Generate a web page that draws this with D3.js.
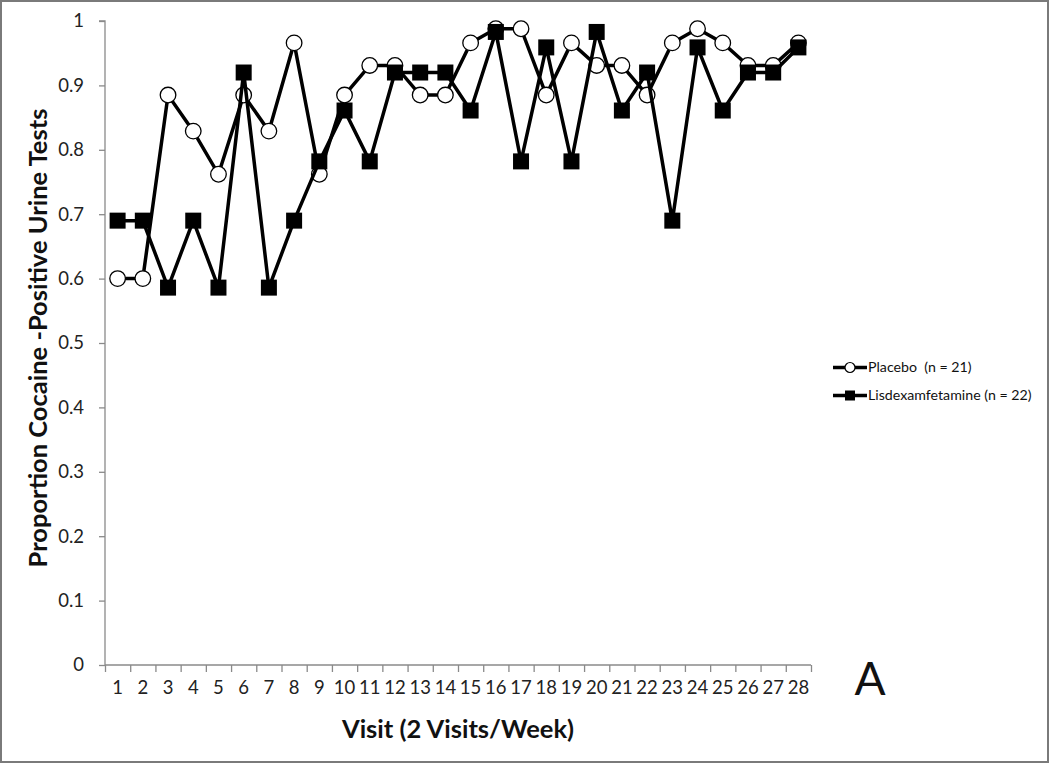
<!DOCTYPE html>
<html>
<head>
<meta charset="utf-8">
<script src="https://cdn.jsdelivr.net/npm/d3@7"></script>
<style>
  html, body { margin: 0; padding: 0; background: #fff; }
  svg { display: block; }
  text { font-family: Lato, "Open Sans", sans-serif; white-space: pre; }
</style>
</head>
<body>
<svg id="chart" width="1050" height="764"></svg>
<script>
const visits = d3.range(1, 29);
const placebo = [0.600, 0.600, 0.885, 0.829, 0.762, 0.885, 0.829, 0.966, 0.762, 0.885,
                 0.931, 0.931, 0.885, 0.885, 0.966, 0.988, 0.988, 0.885, 0.966, 0.931,
                 0.931, 0.885, 0.966, 0.988, 0.966, 0.931, 0.931, 0.966];
const lisdex = [0.690, 0.690, 0.586, 0.690, 0.586, 0.920, 0.586, 0.690, 0.782, 0.861,
                0.782, 0.920, 0.920, 0.920, 0.861, 0.983, 0.782, 0.959, 0.782, 0.983,
                0.861, 0.920, 0.690, 0.959, 0.861, 0.920, 0.920, 0.959];
const yTicks = [0, 0.1, 0.2, 0.3, 0.4, 0.5, 0.6, 0.7, 0.8, 0.9, 1];
const seriesNames = ["Placebo  (n = 21)", "Lisdexamfetamine (n = 22)"];
const xTitle = "Visit (2 Visits/Week)";
const yTitle = "Proportion Cocaine -Positive Urine Tests";
const panelLabel = "A";

const svg = d3.select("#chart");
const W = 1050, H = 764;
const pLeft = 105, pRight = 811, pTop = 21, pBottom = 665;

// outer frame
svg.append("rect").attr("x", 1).attr("y", 1).attr("width", W - 3).attr("height", H - 3)
  .attr("fill", "#fff").attr("stroke", "#7a7a7a").attr("stroke-width", 2);

const x = d3.scaleBand().domain(visits).range([pLeft, pRight]).padding(0);
const xEdge = d3.scaleLinear().domain([0.5, 28.5]).range([pLeft, pRight]);
const y = d3.scaleLinear().domain([0, 1]).range([pBottom, pTop]);
const cx = v => x(v) + x.bandwidth() / 2;

const axisColor = "#8a8a8a";

// y axis
const gy = svg.append("g").attr("transform", `translate(${pLeft},0)`)
  .call(d3.axisLeft(y).tickValues(yTicks).tickSize(6).tickPadding(15)
        .tickFormat(d => d === 0 || d === 1 ? d3.format("d")(d) : d3.format(".1f")(d)));
gy.selectAll("path, line").attr("stroke", axisColor).attr("stroke-width", 1.3);
gy.select("path.domain").attr("d", `M-6,${pTop}H0V${pBottom}`);
gy.selectAll("text").attr("font-size", 18.5).attr("fill", "#222")
  .style("font-family", "Lato, sans-serif");

// x axis tick marks at category boundaries
const gx = svg.append("g").attr("transform", `translate(0,${pBottom})`)
  .call(d3.axisBottom(xEdge).tickValues(d3.range(0.5, 29, 1)).tickSize(7).tickFormat(""));
gx.selectAll("path, line").attr("stroke", axisColor).attr("stroke-width", 1.3);
gx.select("path.domain").attr("d", `M${pLeft},0H${pRight}`);

// x labels
const gxl = svg.append("g").attr("transform", `translate(0,${pBottom})`)
  .call(d3.axisBottom(x).tickSize(0).tickPadding(16));
gxl.select("path.domain").remove();
gxl.selectAll("text").attr("font-size", 18.5).attr("fill", "#222")
  .style("font-family", "Lato, sans-serif");

// titles
svg.append("text").attr("x", 458).attr("y", 738).attr("text-anchor", "middle")
  .attr("font-size", 25.5).attr("font-weight", "bold").attr("fill", "#111").text(xTitle);
svg.append("text").attr("transform", "translate(47,338) rotate(-90)").attr("text-anchor", "middle")
  .attr("font-size", 25.5).attr("font-weight", "bold").attr("fill", "#111").text(yTitle);
svg.append("text").attr("x", 870).attr("y", 695).attr("text-anchor", "middle")
  .attr("font-size", 46).attr("fill", "#111").text(panelLabel);

// series
const line = d3.line().x((d, i) => cx(visits[i])).y(d => y(d));

function drawSeries(vals, shape) {
  svg.append("path").datum(vals).attr("d", line).attr("fill", "none")
    .attr("stroke", "#000").attr("stroke-width", 3.5).attr("stroke-linejoin", "miter");
  const g = svg.append("g");
  if (shape === "circle") {
    g.selectAll("circle").data(vals).join("circle")
      .attr("cx", (d, i) => cx(visits[i])).attr("cy", d => y(d)).attr("r", 7.8)
      .attr("fill", "#fff").attr("stroke", "#000").attr("stroke-width", 1.3);
  } else {
    const s = 16;
    g.selectAll("rect").data(vals).join("rect")
      .attr("x", (d, i) => cx(visits[i]) - s / 2).attr("y", d => y(d) - s / 2)
      .attr("width", s).attr("height", s).attr("fill", "#000");
  }
}
drawSeries(placebo, "circle");
drawSeries(lisdex, "square");

// legend
const legend = svg.append("g");
const legY = [367.5, 395.5];
legY.forEach((ly, i) => {
  legend.append("line").attr("x1", 833).attr("x2", 867).attr("y1", ly).attr("y2", ly)
    .attr("stroke", "#000").attr("stroke-width", 3.5);
  if (i === 0) {
    legend.append("circle").attr("cx", 850).attr("cy", ly).attr("r", 5)
      .attr("fill", "#fff").attr("stroke", "#000").attr("stroke-width", 1.2);
  } else {
    legend.append("rect").attr("x", 845).attr("y", ly - 5).attr("width", 10).attr("height", 10)
      .attr("fill", "#000");
  }
  legend.append("text").attr("x", 868).attr("y", ly).attr("dy", "0.35em")
    .attr("font-size", 14.2).attr("fill", "#111").text(seriesNames[i]);
});
</script>
</body>
</html>
